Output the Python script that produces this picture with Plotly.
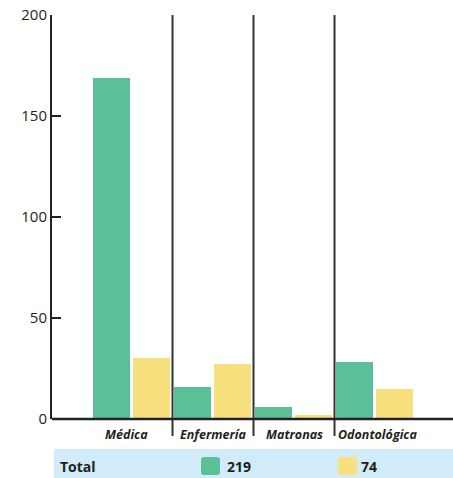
import plotly.graph_objects as go

categories = ["Médica", "Enfermería", "Matronas", "Odontológica"]
green_vals = [169, 16, 6, 28]
yellow_vals = [30, 27, 2, 15]
y_ticks = [0, 50, 100, 150, 200]
total_label = "Total"
green_total = "219"
yellow_total = "74"

GREEN = "#5bc098"
YELLOW = "#f9e07e"
DARK = "#231f20"
BAND = "#d2ebf9"

W, H = 453, 478
L, R, T, B = 52, 0, 15, 59
PW = W - L - R
PH = H - T - B


def px(xp):
    return (xp - L) / PW


def py(yp):
    return (H - B - yp) / PH


x_pos = list(range(len(categories)))

fig = go.Figure()
fig.add_trace(go.Bar(x=x_pos, y=green_vals, marker=dict(color=GREEN, line=dict(width=0)),
                     offset=-0.481, width=0.457, showlegend=False, hoverinfo="skip"))
fig.add_trace(go.Bar(x=x_pos, y=yellow_vals, marker=dict(color=YELLOW, line=dict(width=0)),
                     offset=0.012, width=0.457, showlegend=False, hoverinfo="skip"))

shapes = []
# dividers
for i in range(len(categories) - 1):
    shapes.append(dict(type="line", xref="x", yref="paper", x0=i + 0.5, x1=i + 0.5,
                       y0=py(436), y1=1, line=dict(color="#333333", width=2)))
# bottom axis line
shapes.append(dict(type="line", xref="paper", yref="paper", x0=0, x1=1, y0=0, y1=0,
                   line=dict(color="#222222", width=2.5)))
# table band
shapes.append(dict(type="rect", xref="paper", yref="paper", x0=px(54), x1=px(453),
                   y0=py(478), y1=py(449), fillcolor=BAND, line=dict(width=0), layer="below"))


def rounded(x0, y0, x1, y1, r, color):
    X0, X1 = px(x0), px(x1)
    Y0, Y1 = py(y1), py(y0)
    rx = r / PW
    ry = r / PH
    path = (f"M {X0+rx},{Y0} L {X1-rx},{Y0} Q {X1},{Y0} {X1},{Y0+ry} "
            f"L {X1},{Y1-ry} Q {X1},{Y1} {X1-rx},{Y1} L {X0+rx},{Y1} "
            f"Q {X0},{Y1} {X0},{Y1-ry} L {X0},{Y0+ry} Q {X0},{Y0} {X0+rx},{Y0} Z")
    return dict(type="path", xref="paper", yref="paper", path=path,
                fillcolor=color, line=dict(width=0))


shapes.append(rounded(201, 457, 220, 475, 3, GREEN))
shapes.append(rounded(338, 457, 357, 475, 3, YELLOW))

label_shift = [-6, 0, 0, 2]
annotations = []
for i, c in enumerate(categories):
    annotations.append(dict(x=i, xref="x", y=py(434), yref="paper", text=c, showarrow=False,
                            xanchor="center", yanchor="middle", xshift=label_shift[i],
                            font=dict(family="Open Sans", size=12.5, color=DARK, style="italic", weight=700)))
annotations.append(dict(x=px(58), xref="paper", y=py(466), yref="paper", text=total_label,
                        showarrow=False, xanchor="left", yanchor="middle",
                        font=dict(family="Open Sans", size=14, color=DARK, weight="bold")))
annotations.append(dict(x=px(225), xref="paper", y=py(466), yref="paper", text=green_total,
                        showarrow=False, xanchor="left", yanchor="middle",
                        font=dict(family="Open Sans", size=14, color=DARK, weight="bold")))
annotations.append(dict(x=px(359), xref="paper", y=py(466), yref="paper", text=yellow_total,
                        showarrow=False, xanchor="left", yanchor="middle",
                        font=dict(family="Open Sans", size=14, color=DARK, weight="bold")))

fig.update_layout(
    width=W, height=H,
    margin=dict(l=L, r=R, t=T, b=B),
    paper_bgcolor="white", plot_bgcolor="white",
    shapes=shapes, annotations=annotations,
    bargap=0, barmode="overlay",
    xaxis=dict(range=[-0.988, 3.963], showgrid=False, zeroline=False, showticklabels=False,
               ticks="", showline=False, fixedrange=True),
    yaxis=dict(range=[0, 200], tickvals=y_ticks, showgrid=False, zeroline=False,
               showline=True, linecolor="#222222", linewidth=2,
               ticks="inside", ticklen=9, tickwidth=2, tickcolor="#222222",
               tickfont=dict(family="Open Sans", size=15, color=DARK), fixedrange=True),
)

fig.write_html("out.html", config={"displayModeBar": False},
               post_script="document.body.style.margin='0px';document.body.style.overflow='hidden';")
